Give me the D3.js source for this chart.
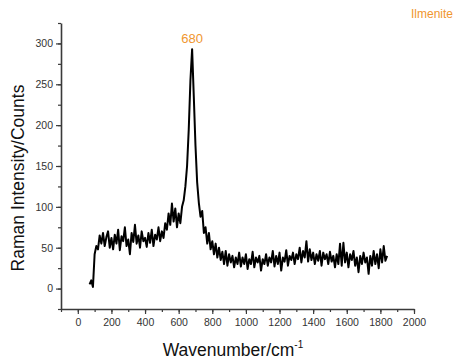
<!DOCTYPE html>
<html>
<head>
<meta charset="utf-8">
<script src="https://cdn.jsdelivr.net/npm/d3@7"></script>
<style>
  body { margin: 0; background: #fff; }
  svg { font-family: "Liberation Sans", Arial, sans-serif; }
</style>
</head>
<body>
<div id="chart"></div>
<script>
// spectrum (wavenumber in cm-1, counts)
const wavenumbers = [
  70, 80, 90, 100, 110, 120, 130, 140, 150, 160, 170, 180, 190, 200, 210, 220, 230, 240, 250, 260,
  270, 280, 290, 300, 310, 320, 330, 340, 350, 360, 370, 380, 390, 400, 410, 420, 430, 440, 450, 460,
  470, 480, 490, 500, 510, 520, 530, 540, 550, 560, 570, 580, 590, 600, 610, 620, 630, 640, 650, 660,
  670, 680, 690, 700, 710, 720, 730, 740, 750, 760, 770, 780, 790, 800, 810, 820, 830, 840, 850, 860,
  870, 880, 890, 900, 910, 920, 930, 940, 950, 960, 970, 980, 990, 1000, 1010, 1020, 1030, 1040, 1050, 1060,
  1070, 1080, 1090, 1100, 1110, 1120, 1130, 1140, 1150, 1160, 1170, 1180, 1190, 1200, 1210, 1220, 1230, 1240, 1250, 1260,
  1270, 1280, 1290, 1300, 1310, 1320, 1330, 1340, 1350, 1360, 1370, 1380, 1390, 1400, 1410, 1420, 1430, 1440, 1450, 1460,
  1470, 1480, 1490, 1500, 1510, 1520, 1530, 1540, 1550, 1560, 1570, 1580, 1590, 1600, 1610, 1620, 1630, 1640, 1650, 1660,
  1670, 1680, 1690, 1700, 1710, 1720, 1730, 1740, 1750, 1760, 1770, 1780, 1790, 1800, 1810, 1820, 1830, 1840
]
const counts = [
  5, 10, 2, 42, 52, 48, 65, 55, 68, 52, 63, 70, 50, 62, 48, 66, 55, 72, 47, 64,
  58, 75, 52, 60, 42, 68, 57, 78, 55, 65, 50, 70, 58, 62, 51, 68, 56, 72, 52, 66,
  60, 75, 58, 70, 62, 80, 72, 92, 78, 104, 82, 98, 75, 92, 80, 100, 108, 125, 150, 195,
  255, 293, 235, 175, 130, 105, 88, 95, 68, 75, 55, 68, 48, 58, 42, 55, 38, 50, 35, 45,
  30, 46, 28, 42, 32, 40, 26, 38, 30, 44, 27, 38, 30, 42, 24, 36, 30, 45, 26, 38,
  32, 40, 22, 36, 30, 42, 28, 38, 32, 46, 27, 40, 30, 44, 22, 38, 33, 47, 28, 40,
  35, 44, 30, 42, 36, 50, 32, 46, 38, 58, 33, 48, 35, 44, 30, 42, 34, 46, 28, 44,
  36, 42, 30, 45, 33, 40, 26, 42, 30, 55, 28, 56, 32, 44, 26, 42, 35, 46, 28, 38,
  20, 40, 30, 44, 32, 38, 18, 40, 28, 46, 30, 42, 25, 48, 32, 52, 34, 40
]
const xTicks = [0, 200, 400, 600, 800, 1000, 1200, 1400, 1600, 1800, 2000]
const yTicks = [0, 50, 100, 150, 200, 250, 300]
const peakLabel = '680'
const peakPosition = 680
const sampleName = 'Ilmenite'

let width = 453
let height = 362
let margin = { left: 61, right: 39, top: 23, bottom: 53 }

let svg = d3.select('#chart').append('svg')
    .attr('width', width)
    .attr('height', height)

let x = d3.scaleLinear().domain([-100, 2000]).range([margin.left, width - margin.right])
let y = d3.scaleLinear().domain([-25, 325]).range([height - margin.bottom, margin.top])

let axisColor = '#3a3a3a'
let textColor = '#333'
let orange = '#f0962e'
let fmt = d3.format('d')

// minor ticks first, majors on top
svg.append('g')
    .attr('transform', 'translate(0,' + (height - margin.bottom) + ')')
    .call(d3.axisBottom(x).tickValues(d3.range(-100, 2001, 100)).tickSize(3).tickFormat(''))
    .call(g => g.select('.domain').remove())
svg.append('g')
    .attr('transform', 'translate(0,' + (height - margin.bottom) + ')')
    .call(d3.axisBottom(x).tickValues(xTicks).tickFormat(fmt).tickSize(5).tickPadding(5).tickSizeOuter(0))

svg.append('g')
    .attr('transform', 'translate(' + margin.left + ',0)')
    .call(d3.axisLeft(y).tickValues(d3.range(-25, 326, 25)).tickSize(3).tickFormat(''))
    .call(g => g.select('.domain').remove())
svg.append('g')
    .attr('transform', 'translate(' + margin.left + ',0)')
    .call(d3.axisLeft(y).tickValues(yTicks).tickFormat(fmt).tickSize(5).tickPadding(3).tickSizeOuter(0))

svg.selectAll('.tick line').attr('stroke', axisColor).attr('stroke-width', 1.2)
svg.selectAll('.domain').attr('stroke', axisColor).attr('stroke-width', 1.6)
svg.selectAll('.tick text').attr('fill', textColor).style('font-size', '10.5px')

// spectrum
let line = d3.line()
    .x((d, i) => x(wavenumbers[i]))
    .y(d => y(d))
svg.append('path')
    .datum(counts)
    .attr('fill', 'none')
    .attr('stroke', '#000')
    .attr('stroke-width', 2)
    .attr('stroke-linejoin', 'round')
    .attr('d', line)

// axis titles
svg.append('text')
    .attr('transform', 'translate(24,' + ((margin.top + height - margin.bottom) / 2 + 12) + ') rotate(-90)')
    .attr('text-anchor', 'middle')
    .style('font-size', '17.5px')
    .attr('fill', '#111')
    .text('Raman Intensity/Counts')

let xTitle = svg.append('text')
    .attr('x', 233)
    .attr('y', 356)
    .attr('text-anchor', 'middle')
    .style('font-size', '17.5px')
    .attr('fill', '#111')
xTitle.append('tspan').text('Wavenumber/cm')
xTitle.append('tspan').attr('dy', -8).style('font-size', '10px').text('-1')

// annotations
svg.append('text')
    .attr('x', x(peakPosition))
    .attr('y', y(d3.max(counts)) - 6)
    .attr('text-anchor', 'middle')
    .style('font-size', '13px')
    .attr('fill', orange)
    .text(peakLabel)

svg.append('text')
    .attr('x', 453)
    .attr('y', 18)
    .attr('text-anchor', 'end')
    .style('font-size', '12px')
    .attr('fill', orange)
    .text(sampleName)
</script>
</body>
</html>
